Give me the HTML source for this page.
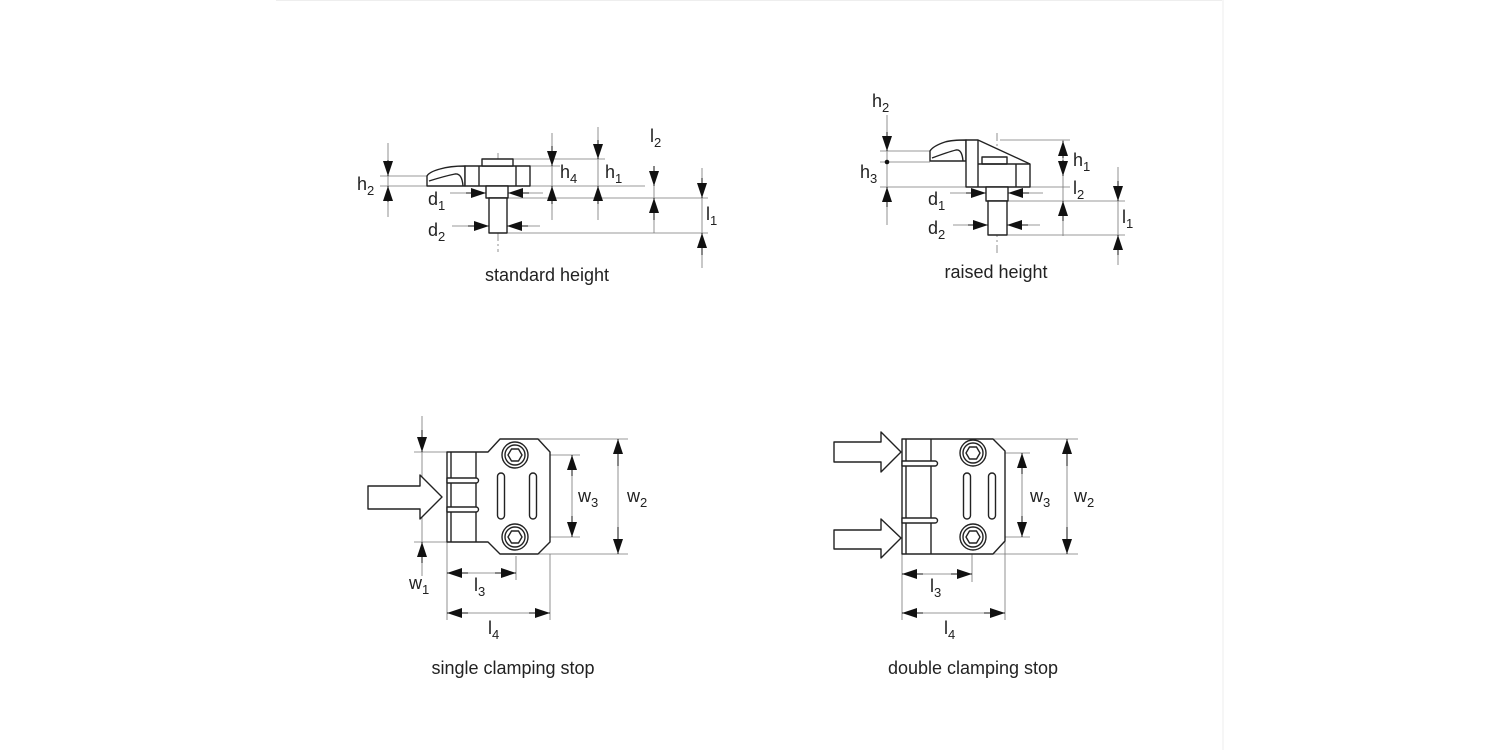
<!DOCTYPE html>
<html><head><meta charset="utf-8"><style>
html,body{margin:0;padding:0;background:#fff;}
svg{display:block;}
text{font-family:"Liberation Sans",Arial,sans-serif;fill:#222;}
</style></head><body>
<svg width="1500" height="750" viewBox="0 0 1500 750" xmlns="http://www.w3.org/2000/svg">
<defs>
<marker id="a" markerUnits="userSpaceOnUse" markerWidth="15" markerHeight="10" refX="15" refY="5" orient="auto">
<path d="M0,0 L15,5 L0,10 z" fill="#111"/>
</marker>
</defs>
<line x1="276" y1="0.5" x2="1222" y2="0.5" stroke="#eee" stroke-width="1"/>
<line x1="1223" y1="0" x2="1223" y2="750" stroke="#eee" stroke-width="1"/>

<!-- ============ STANDARD HEIGHT ============ -->
<g fill="none" stroke="#777" stroke-width="0.8">
 <line x1="380" y1="176" x2="427" y2="176"/>
 <line x1="380" y1="186" x2="645" y2="186"/>
 <line x1="388" y1="143" x2="388" y2="217"/>
 <line x1="513" y1="159" x2="605" y2="159"/>
 <line x1="530" y1="166" x2="560" y2="166"/>
 <line x1="508" y1="198" x2="708" y2="198"/>
 <line x1="507" y1="233" x2="708" y2="233"/>
 <line x1="552" y1="133" x2="552" y2="220"/>
 <line x1="598" y1="127" x2="598" y2="220"/>
 <line x1="654" y1="167" x2="654" y2="233"/>
 <line x1="702" y1="168" x2="702" y2="268"/>
 <line x1="450" y1="193" x2="543" y2="193"/>
 <line x1="452" y1="226" x2="540" y2="226"/>
 <line x1="498" y1="153" x2="498" y2="252" stroke-dasharray="8,3,2,3"/>
</g>
<g stroke="#111" stroke-width="1">
 <line x1="388" y1="160" x2="388" y2="176" marker-end="url(#a)"/>
 <line x1="388" y1="202" x2="388" y2="186" marker-end="url(#a)"/>
 <line x1="466" y1="193" x2="486" y2="193" marker-end="url(#a)"/>
 <line x1="529" y1="193" x2="508" y2="193" marker-end="url(#a)"/>
 <line x1="468" y1="226" x2="489" y2="226" marker-end="url(#a)"/>
 <line x1="528" y1="226" x2="507" y2="226" marker-end="url(#a)"/>
 <line x1="552" y1="146" x2="552" y2="166" marker-end="url(#a)"/>
 <line x1="552" y1="204" x2="552" y2="186" marker-end="url(#a)"/>
 <line x1="598" y1="140" x2="598" y2="159" marker-end="url(#a)"/>
 <line x1="598" y1="204" x2="598" y2="186" marker-end="url(#a)"/>
 <line x1="654" y1="166" x2="654" y2="186" marker-end="url(#a)"/>
 <line x1="654" y1="220" x2="654" y2="198" marker-end="url(#a)"/>
 <line x1="702" y1="178" x2="702" y2="198" marker-end="url(#a)"/>
 <line x1="702" y1="255" x2="702" y2="233" marker-end="url(#a)"/>
</g>
<g fill="#fff" stroke="#222" stroke-width="1.4" stroke-linejoin="round">
 <path d="M427,186 L427,176 Q429,172 440,169 Q450,166 465,166 L465,186 Z"/>
 <path d="M429,181 Q445,176 455,174 Q462,173 463,186" fill="none"/>
 <rect x="465" y="166" width="65" height="20"/>
 <line x1="479" y1="166" x2="479" y2="186"/>
 <line x1="516" y1="166" x2="516" y2="186"/>
 <rect x="482" y="159" width="31" height="7"/>
 <rect x="486" y="186" width="22" height="12"/>
 <rect x="489" y="198" width="18" height="35"/>
</g>
<g font-size="18">
 <text x="357" y="190">h<tspan dy="5" font-size="13">2</tspan></text>
 <text x="428" y="205">d<tspan dy="5" font-size="13">1</tspan></text>
 <text x="428" y="236">d<tspan dy="5" font-size="13">2</tspan></text>
 <text x="560" y="178">h<tspan dy="5" font-size="13">4</tspan></text>
 <text x="605" y="178">h<tspan dy="5" font-size="13">1</tspan></text>
 <text x="650" y="142">l<tspan dy="5" font-size="13">2</tspan></text>
 <text x="706" y="220">l<tspan dy="5" font-size="13">1</tspan></text>
 <text x="547" y="281" text-anchor="middle">standard height</text>
</g>

<!-- ============ RAISED HEIGHT ============ -->
<g fill="none" stroke="#777" stroke-width="0.8">
 <line x1="880" y1="151" x2="930" y2="151"/>
 <line x1="880" y1="162" x2="930" y2="162"/>
 <line x1="880" y1="187" x2="1070" y2="187"/>
 <line x1="887" y1="115" x2="887" y2="225"/>
 <line x1="1000" y1="140" x2="1070" y2="140"/>
 <line x1="1008" y1="201" x2="1125" y2="201"/>
 <line x1="1007" y1="235" x2="1125" y2="235"/>
 <line x1="1063" y1="140" x2="1063" y2="236"/>
 <line x1="1118" y1="167" x2="1118" y2="265"/>
 <line x1="950" y1="193" x2="1043" y2="193"/>
 <line x1="953" y1="225" x2="1040" y2="225"/>
 <line x1="997" y1="133" x2="997" y2="256" stroke-dasharray="8,3,2,3"/>
</g>
<g stroke="#111" stroke-width="1">
 <line x1="887" y1="132" x2="887" y2="151" marker-end="url(#a)"/>
 <line x1="887" y1="207" x2="887" y2="187" marker-end="url(#a)"/>
 <line x1="966" y1="193" x2="986" y2="193" marker-end="url(#a)"/>
 <line x1="1029" y1="193" x2="1008" y2="193" marker-end="url(#a)"/>
 <line x1="968" y1="225" x2="988" y2="225" marker-end="url(#a)"/>
 <line x1="1028" y1="225" x2="1007" y2="225" marker-end="url(#a)"/>
 <line x1="1063" y1="158" x2="1063" y2="141" marker-end="url(#a)"/>
 <line x1="1063" y1="160" x2="1063" y2="176" marker-end="url(#a)"/>
 <line x1="1063" y1="221" x2="1063" y2="201" marker-end="url(#a)"/>
 <line x1="1118" y1="181" x2="1118" y2="201" marker-end="url(#a)"/>
 <line x1="1118" y1="255" x2="1118" y2="235" marker-end="url(#a)"/>
</g>
<circle cx="887" cy="162" r="2.3" fill="#111"/>
<g fill="#fff" stroke="#222" stroke-width="1.4" stroke-linejoin="round">
 <path d="M930,161 L930,151 Q933,146 945,142 Q952,140 966,140 L966,161 Z"/>
 <path d="M932,158 Q948,152 956,150 Q962,149 963,161" fill="none"/>
 <path d="M966,187 L966,140 L978,140 L1030,164 L1030,187 Z"/>
 <line x1="978" y1="140" x2="978" y2="187"/>
 <rect x="982" y="157" width="25" height="7"/>
 <line x1="978" y1="164" x2="1030" y2="164"/>
 <line x1="1016" y1="164" x2="1016" y2="187"/>
 <rect x="986" y="187" width="22" height="14"/>
 <rect x="988" y="201" width="19" height="34"/>
</g>
<g font-size="18">
 <text x="872" y="107">h<tspan dy="5" font-size="13">2</tspan></text>
 <text x="860" y="178">h<tspan dy="5" font-size="13">3</tspan></text>
 <text x="928" y="205">d<tspan dy="5" font-size="13">1</tspan></text>
 <text x="928" y="234">d<tspan dy="5" font-size="13">2</tspan></text>
 <text x="1073" y="166">h<tspan dy="5" font-size="13">1</tspan></text>
 <text x="1073" y="194">l<tspan dy="5" font-size="13">2</tspan></text>
 <text x="1122" y="223">l<tspan dy="5" font-size="13">1</tspan></text>
 <text x="996" y="278" text-anchor="middle">raised height</text>
</g>

<!-- ============ SINGLE CLAMPING STOP ============ -->
<g fill="none" stroke="#777" stroke-width="0.8">
 <line x1="414" y1="452" x2="447" y2="452"/>
 <line x1="414" y1="542" x2="447" y2="542"/>
 <line x1="422" y1="416" x2="422" y2="576"/>
 <line x1="515" y1="455" x2="580" y2="455"/>
 <line x1="515" y1="537" x2="580" y2="537"/>
 <line x1="538" y1="439" x2="628" y2="439"/>
 <line x1="538" y1="554" x2="628" y2="554"/>
 <line x1="572" y1="455" x2="572" y2="537"/>
 <line x1="618" y1="439" x2="618" y2="554"/>
 <line x1="447" y1="542" x2="447" y2="620"/>
 <line x1="516" y1="556" x2="516" y2="580"/>
 <line x1="550" y1="554" x2="550" y2="620"/>
 <line x1="447" y1="573" x2="516" y2="573"/>
 <line x1="447" y1="613" x2="550" y2="613"/>
</g>
<g stroke="#111" stroke-width="1">
 <line x1="422" y1="430" x2="422" y2="452" marker-end="url(#a)"/>
 <line x1="422" y1="563" x2="422" y2="542" marker-end="url(#a)"/>
 <line x1="572" y1="476" x2="572" y2="455" marker-end="url(#a)"/>
 <line x1="572" y1="516" x2="572" y2="537" marker-end="url(#a)"/>
 <line x1="618" y1="466" x2="618" y2="439" marker-end="url(#a)"/>
 <line x1="618" y1="527" x2="618" y2="554" marker-end="url(#a)"/>
 <line x1="468" y1="573" x2="447" y2="573" marker-end="url(#a)"/>
 <line x1="495" y1="573" x2="516" y2="573" marker-end="url(#a)"/>
 <line x1="468" y1="613" x2="447" y2="613" marker-end="url(#a)"/>
 <line x1="529" y1="613" x2="550" y2="613" marker-end="url(#a)"/>
</g>
<g fill="#fff" stroke="#222" stroke-width="1.4" stroke-linejoin="round">
 <path d="M447,452 L488,452 L500,439 L538,439 L550,452 L550,542 L538,554 L500,554 L488,542 L447,542 Z"/>
 <line x1="451" y1="452" x2="451" y2="542"/>
 <line x1="476" y1="452" x2="476" y2="542"/>
 <path d="M447,478 L476,478 A2.5,2.5 0 0 1 476,483 L447,483 Z"/>
 <path d="M447,507 L476,507 A2.5,2.5 0 0 1 476,512 L447,512 Z"/>
 <rect x="497.5" y="473" width="7" height="46" rx="3.5"/>
 <rect x="529.5" y="473" width="7" height="46" rx="3.5"/>
 <circle cx="515" cy="455" r="13"/><circle cx="515" cy="455" r="10"/>
 <polygon points="522,455 518.5,461 511.5,461 508,455 511.5,449 518.5,449"/>
 <circle cx="515" cy="537" r="13"/><circle cx="515" cy="537" r="10"/>
 <polygon points="522,537 518.5,543 511.5,543 508,537 511.5,531 518.5,531"/>
 <path d="M368,486 L420,486 L420,475 L442,497 L420,519 L420,509 L368,509 Z"/>
</g>
<g font-size="18">
 <text x="578" y="502">w<tspan dy="5" font-size="13">3</tspan></text>
 <text x="627" y="502">w<tspan dy="5" font-size="13">2</tspan></text>
 <text x="409" y="589">w<tspan dy="5" font-size="13">1</tspan></text>
 <text x="474" y="591">l<tspan dy="5" font-size="13">3</tspan></text>
 <text x="488" y="634">l<tspan dy="5" font-size="13">4</tspan></text>
 <text x="513" y="674" text-anchor="middle">single clamping stop</text>
</g>

<!-- ============ DOUBLE CLAMPING STOP ============ -->
<g fill="none" stroke="#777" stroke-width="0.8">
 <line x1="973" y1="453" x2="1030" y2="453"/>
 <line x1="973" y1="537" x2="1030" y2="537"/>
 <line x1="993" y1="439" x2="1078" y2="439"/>
 <line x1="993" y1="554" x2="1078" y2="554"/>
 <line x1="1022" y1="453" x2="1022" y2="537"/>
 <line x1="1067" y1="439" x2="1067" y2="554"/>
 <line x1="902" y1="554" x2="902" y2="620"/>
 <line x1="972" y1="554" x2="972" y2="582"/>
 <line x1="1005" y1="541" x2="1005" y2="620"/>
 <line x1="902" y1="574" x2="972" y2="574"/>
 <line x1="902" y1="613" x2="1005" y2="613"/>
</g>
<g stroke="#111" stroke-width="1">
 <line x1="1022" y1="474" x2="1022" y2="453" marker-end="url(#a)"/>
 <line x1="1022" y1="516" x2="1022" y2="537" marker-end="url(#a)"/>
 <line x1="1067" y1="466" x2="1067" y2="439" marker-end="url(#a)"/>
 <line x1="1067" y1="527" x2="1067" y2="554" marker-end="url(#a)"/>
 <line x1="923" y1="574" x2="902" y2="574" marker-end="url(#a)"/>
 <line x1="951" y1="574" x2="972" y2="574" marker-end="url(#a)"/>
 <line x1="923" y1="613" x2="902" y2="613" marker-end="url(#a)"/>
 <line x1="984" y1="613" x2="1005" y2="613" marker-end="url(#a)"/>
</g>
<g fill="#fff" stroke="#222" stroke-width="1.4" stroke-linejoin="round">
 <path d="M902,439 L993,439 L1005,451 L1005,541 L993,554 L902,554 Z"/>
 <line x1="906" y1="439" x2="906" y2="554"/>
 <line x1="931" y1="439" x2="931" y2="554"/>
 <path d="M902,461 L935,461 A2.5,2.5 0 0 1 935,466 L902,466 Z"/>
 <path d="M902,518 L935,518 A2.5,2.5 0 0 1 935,523 L902,523 Z"/>
 <rect x="963.5" y="473" width="7" height="46" rx="3.5"/>
 <rect x="988.5" y="473" width="7" height="46" rx="3.5"/>
 <circle cx="973" cy="453" r="13"/><circle cx="973" cy="453" r="10"/>
 <polygon points="980,453 976.5,459 969.5,459 966,453 969.5,447 976.5,447"/>
 <circle cx="973" cy="537" r="13"/><circle cx="973" cy="537" r="10"/>
 <polygon points="980,537 976.5,543 969.5,543 966,537 969.5,531 976.5,531"/>
 <path d="M834,442 L881,442 L881,432 L901,452 L881,472 L881,462 L834,462 Z"/>
 <path d="M834,530 L881,530 L881,519 L901,538 L881,558 L881,549 L834,549 Z"/>
</g>
<g font-size="18">
 <text x="1030" y="502">w<tspan dy="5" font-size="13">3</tspan></text>
 <text x="1074" y="502">w<tspan dy="5" font-size="13">2</tspan></text>
 <text x="930" y="592">l<tspan dy="5" font-size="13">3</tspan></text>
 <text x="944" y="634">l<tspan dy="5" font-size="13">4</tspan></text>
 <text x="973" y="674" text-anchor="middle">double clamping stop</text>
</g>
</svg>
</body></html>
